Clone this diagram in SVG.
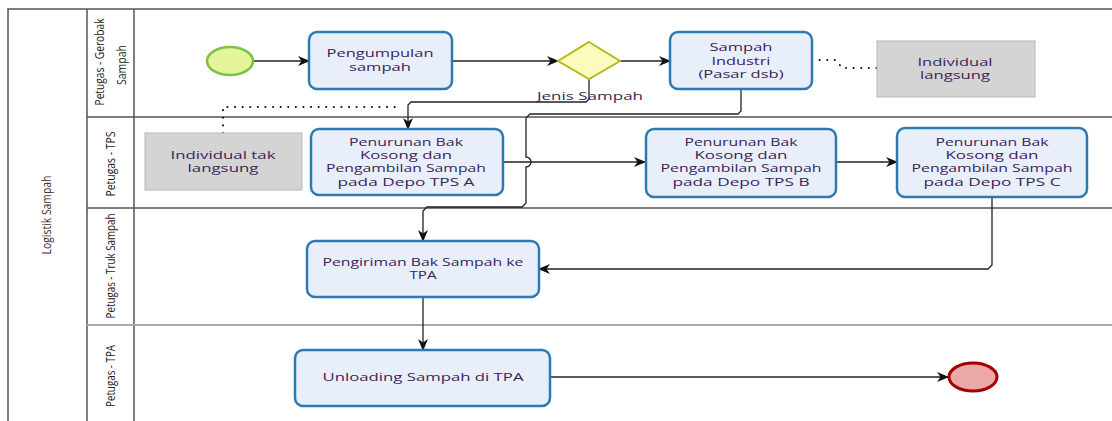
<svg xmlns="http://www.w3.org/2000/svg" width="1112" height="421" viewBox="0 0 1112 421">
<defs>
<marker id="arr" viewBox="0 0 12 10" refX="11" refY="5" markerWidth="12" markerHeight="10" markerUnits="userSpaceOnUse" orient="auto">
<path d="M0,0 L12,5 L0,10 L3.5,5 z" fill="#111"/>
</marker>
<style>
.lane{stroke:#555;stroke-width:1.5;fill:none}
.lane2{stroke:#aaa;stroke-width:2.2;fill:none}
.ll{font-family:"Open Sans","DejaVu Sans",sans-serif;font-size:13.5px;fill:#222;text-anchor:middle}
.task{fill:#e9eefb;stroke:#2c7bb0;stroke-width:2.5}
.gray{fill:#d4d4d4;stroke:#b8b8b8;stroke-width:1}
.t{font-family:"Open Sans","DejaVu Sans",sans-serif;font-size:11.5px;fill:#3a2458;text-anchor:middle}
.flow{fill:none;stroke:#222;stroke-width:1.3}
.dot{fill:none;stroke:#111;stroke-width:2;stroke-dasharray:0.1 7.5;stroke-linecap:round}
</style>
</defs>
<g id="pool">
<rect x="8" y="9" width="1110" height="420" fill="#fff" class="lane"/>
<line x1="87" y1="9" x2="87" y2="421" class="lane"/>
<line x1="134" y1="9" x2="134" y2="421" class="lane"/>
<line x1="87" y1="117" x2="1112" y2="117" class="lane"/>
<line x1="87" y1="208" x2="1112" y2="208" class="lane"/>
<line x1="87" y1="325" x2="1112" y2="325" class="lane2"/>
<text class="ll" style="font-size:13.5px;fill:#333" transform="translate(51,215) rotate(-90)" textLength="79" lengthAdjust="spacingAndGlyphs">Logistik Sampah</text>
<text class="ll" style="font-size:12px" transform="translate(104,62) rotate(-90)" textLength="87" lengthAdjust="spacingAndGlyphs">Petugas - Gerobak</text>
<text class="ll" transform="translate(126,65) rotate(-90)" textLength="40" lengthAdjust="spacingAndGlyphs">Sampah</text>
<text class="ll" transform="translate(115,164) rotate(-90)" textLength="65" lengthAdjust="spacingAndGlyphs">Petugas - TPS</text>
<text class="ll" transform="translate(115,266) rotate(-90)" textLength="105" lengthAdjust="spacingAndGlyphs">Petugas - Truk Sampah</text>
<text class="ll" transform="translate(115,376) rotate(-90)" textLength="62" lengthAdjust="spacingAndGlyphs">Petugas - TPA</text>
</g>
<g id="connectors">
<path class="flow" d="M253,61 H309" marker-end="url(#arr)"/>
<path class="flow" d="M452,61 H558" marker-end="url(#arr)"/>
<path class="flow" d="M620,61 H670" marker-end="url(#arr)"/>
<path class="flow" d="M589,79 V99 L586,102 H411 L408,105 V129" marker-end="url(#arr)"/>
<path class="flow" d="M503,162 H645" marker-end="url(#arr)"/>
<path class="flow" d="M836,162 H897" marker-end="url(#arr)"/>
<path class="flow" d="M741,89 V111 L738,114 H530 L526,118 V157 A5,5 0 0 1 526,167 V203 L522,207 H427 L423,211 V241" marker-end="url(#arr)"/>
<path class="flow" d="M992,197 V265 L988,269 H539" marker-end="url(#arr)"/>
<path class="flow" d="M423,297 V350" marker-end="url(#arr)"/>
<path class="flow" d="M550,377 H948" marker-end="url(#arr)"/>
<path class="dot" d="M812,60 H836 L842,68 H877"/>
<path class="dot" d="M223,133 V107 H402"/>
</g>
<g id="start">
<ellipse cx="230" cy="61" rx="23" ry="14" fill="#e4f59c" stroke="#7cc242" stroke-width="2.5"/>
</g>
<g id="pengumpulan">
<rect class="task" x="309" y="32" width="143" height="57" rx="8"/>
<text class="t" x="380" y="57" textLength="107" lengthAdjust="spacingAndGlyphs">Pengumpulan</text>
<text class="t" x="380" y="71" textLength="62" lengthAdjust="spacingAndGlyphs">sampah</text>
</g>
<g id="gateway">
<path d="M589,42 L620,61 L589,79 L558,61 z" fill="#fbfbbd" stroke="#b8b820" stroke-width="2"/>
<text class="t" x="590" y="100" fill="#2a3050" textLength="106" lengthAdjust="spacingAndGlyphs">Jenis Sampah</text>
</g>
<g id="sampah-industri">
<rect class="task" x="670" y="32" width="142" height="57" rx="8"/>
<text class="t" x="741" y="51" textLength="63" lengthAdjust="spacingAndGlyphs">Sampah</text>
<text class="t" x="741" y="65" textLength="59" lengthAdjust="spacingAndGlyphs">Industri</text>
<text class="t" x="741" y="78" textLength="85" lengthAdjust="spacingAndGlyphs">(Pasar dsb)</text>
</g>
<g id="individual-langsung">
<rect class="gray" x="877" y="41" width="158" height="56"/>
<text class="t" x="955" y="66" textLength="75" lengthAdjust="spacingAndGlyphs">Individual</text>
<text class="t" x="955" y="79" textLength="70" lengthAdjust="spacingAndGlyphs">langsung</text>
</g>
<g id="individual-tak-langsung">
<rect class="gray" x="145" y="133" width="157" height="57"/>
<text class="t" x="223" y="159" textLength="105" lengthAdjust="spacingAndGlyphs">Individual tak</text>
<text class="t" x="223" y="172" textLength="71" lengthAdjust="spacingAndGlyphs">langsung</text>
</g>
<g id="tps-a">
<rect class="task" x="311" y="129" width="192" height="66" rx="8"/>
<text class="t" x="406" y="146" textLength="114" lengthAdjust="spacingAndGlyphs">Penurunan Bak</text>
<text class="t" x="406" y="159" textLength="92" lengthAdjust="spacingAndGlyphs">Kosong dan</text>
<text class="t" x="406" y="172" textLength="160" lengthAdjust="spacingAndGlyphs">Pengambilan Sampah</text>
<text class="t" x="406" y="186" textLength="137" lengthAdjust="spacingAndGlyphs">pada Depo TPS A</text>
</g>
<g id="tps-b">
<rect class="task" x="646" y="129" width="190" height="68" rx="8"/>
<text class="t" x="741" y="146" textLength="113" lengthAdjust="spacingAndGlyphs">Penurunan Bak</text>
<text class="t" x="741" y="159" textLength="93" lengthAdjust="spacingAndGlyphs">Kosong dan</text>
<text class="t" x="741" y="172" textLength="161" lengthAdjust="spacingAndGlyphs">Pengambilan Sampah</text>
<text class="t" x="741" y="186" textLength="137" lengthAdjust="spacingAndGlyphs">pada Depo TPS B</text>
</g>
<g id="tps-c">
<rect class="task" x="897" y="128" width="190" height="69" rx="8"/>
<text class="t" x="992" y="146" textLength="113" lengthAdjust="spacingAndGlyphs">Penurunan Bak</text>
<text class="t" x="992" y="159" textLength="93" lengthAdjust="spacingAndGlyphs">Kosong dan</text>
<text class="t" x="992" y="172" textLength="161" lengthAdjust="spacingAndGlyphs">Pengambilan Sampah</text>
<text class="t" x="992" y="186" textLength="137" lengthAdjust="spacingAndGlyphs">pada Depo TPS C</text>
</g>
<g id="pengiriman">
<rect class="task" x="307" y="241" width="232" height="56" rx="8"/>
<text class="t" x="423" y="266" textLength="201" lengthAdjust="spacingAndGlyphs">Pengiriman Bak Sampah ke</text>
<text class="t" x="423" y="279" textLength="27" lengthAdjust="spacingAndGlyphs">TPA</text>
</g>
<g id="unloading">
<rect class="task" x="295" y="350" width="255" height="56" rx="8"/>
<text class="t" x="423" y="381" textLength="201" lengthAdjust="spacingAndGlyphs">Unloading Sampah di TPA</text>
</g>
<g id="end">
<ellipse cx="973" cy="377" rx="24" ry="14" fill="#eca8a8" stroke="#a30000" stroke-width="3"/>
</g>
</svg>
